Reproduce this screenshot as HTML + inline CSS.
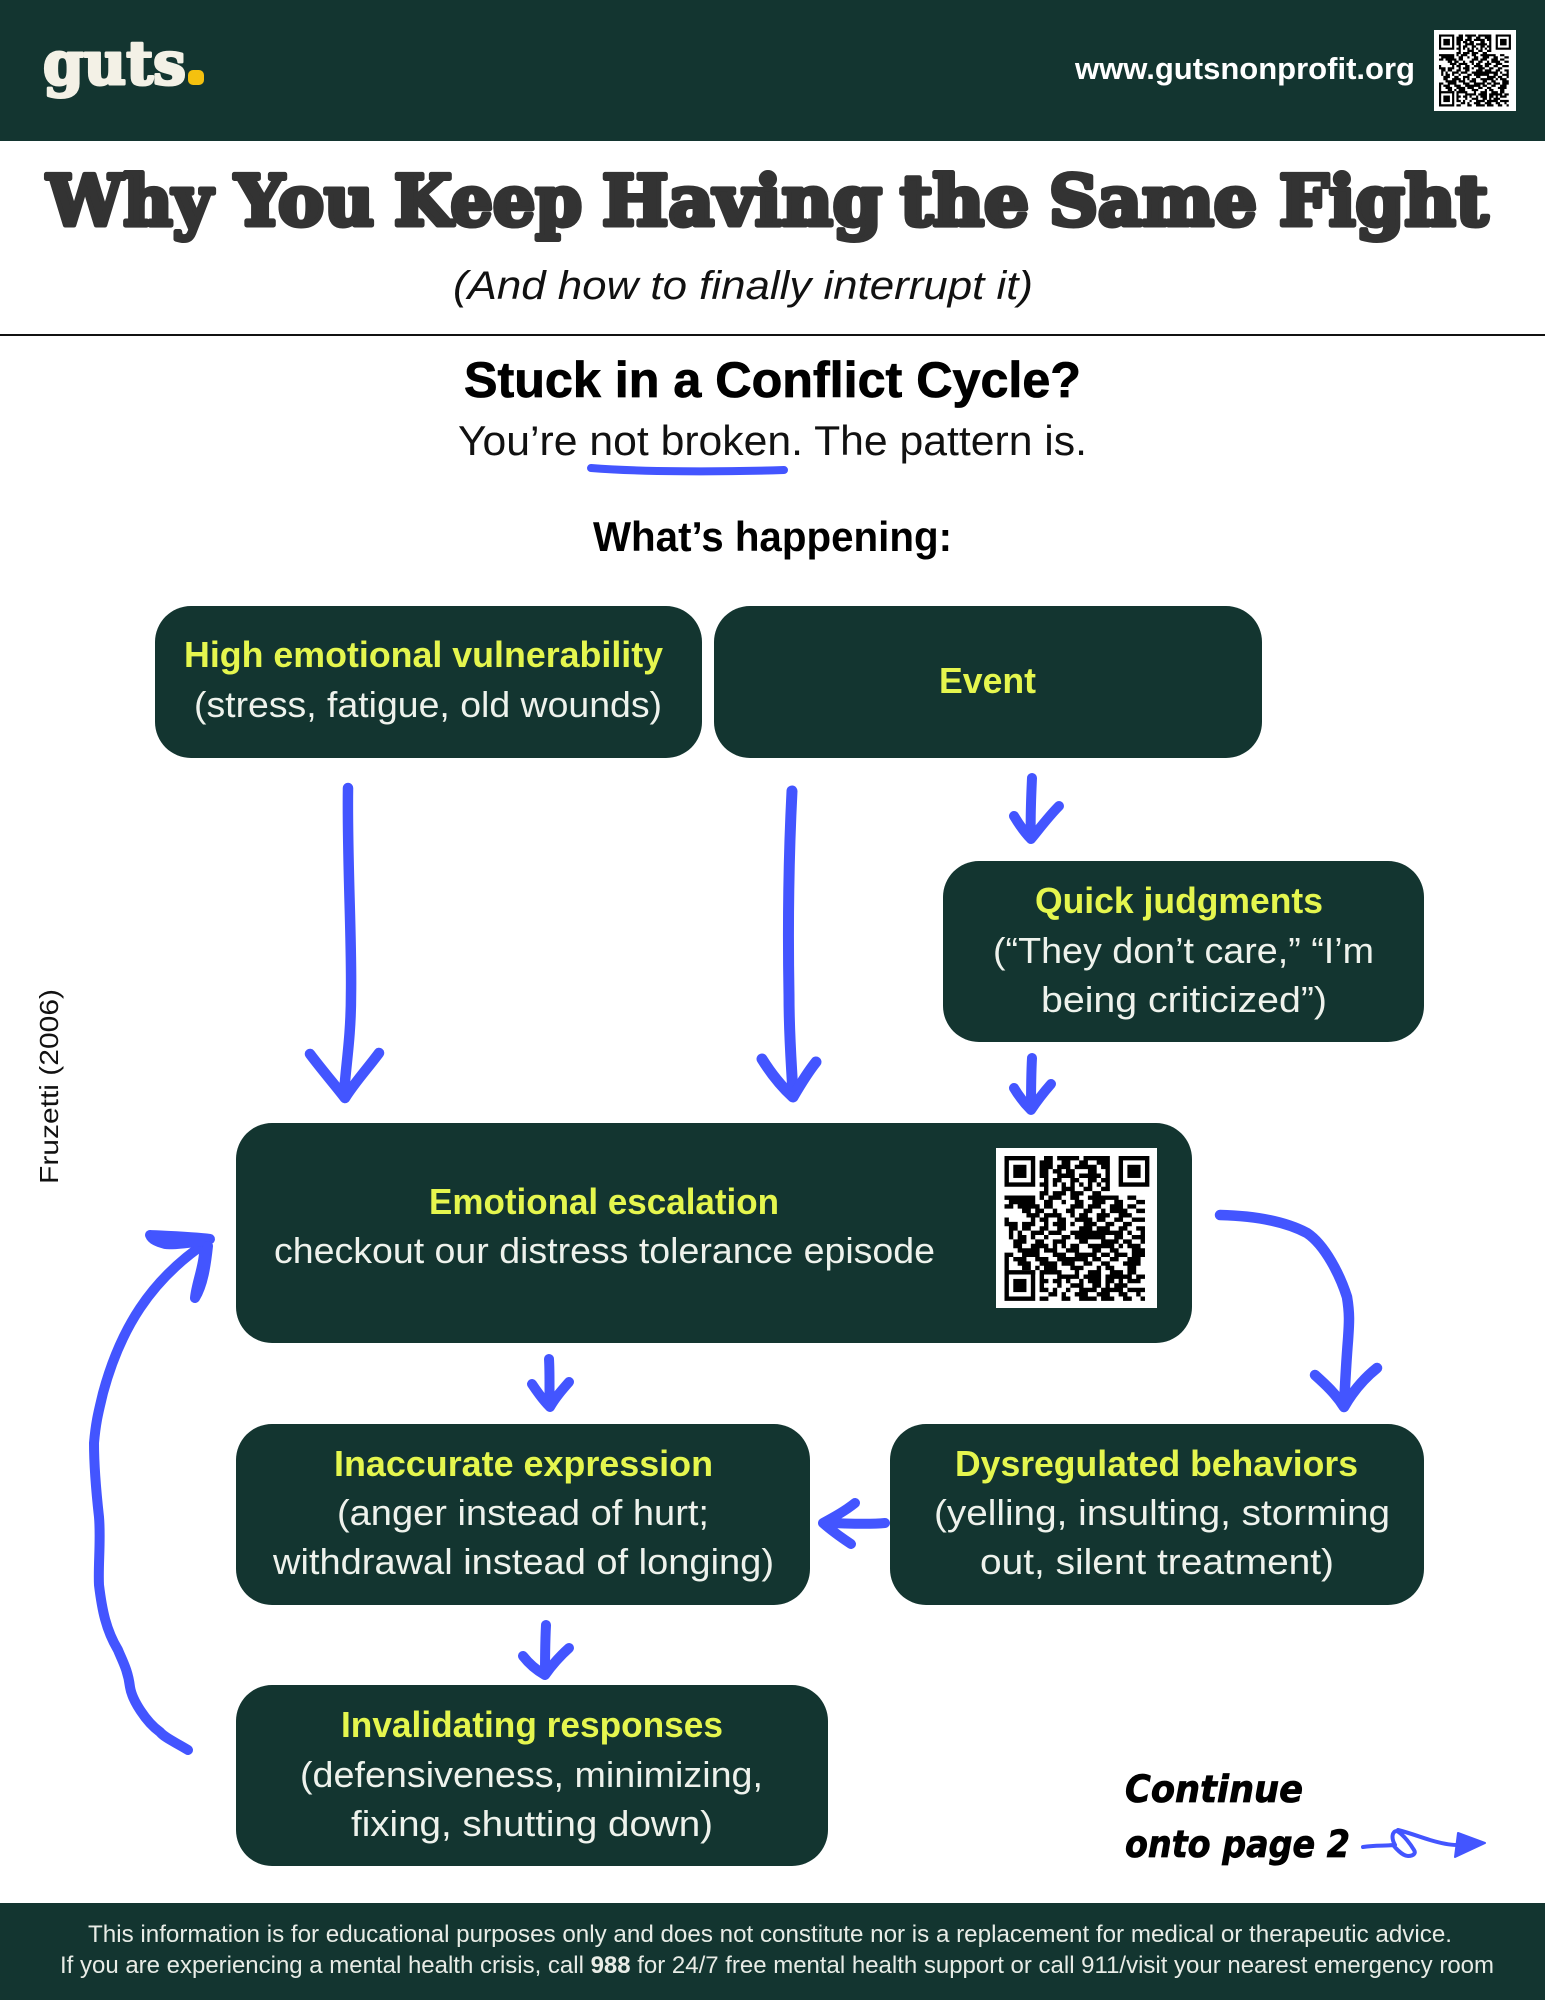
<!DOCTYPE html>
<html><head><meta charset="utf-8"><title>Why You Keep Having the Same Fight</title>
<style>
html,body{margin:0;padding:0;background:#fff}
svg{display:block}
.h{font:bold 36px "Liberation Sans",sans-serif;fill:#e5f64e}
.b{font:36px "Liberation Sans",sans-serif;fill:#eef2ec}
.a{fill:none;stroke:#4355ff;stroke-width:10;stroke-linecap:round;stroke-linejoin:round}
.t{font-family:"DejaVu Serif",serif;font-weight:bold;font-size:69px;fill:#333;stroke:#333;stroke-width:5;stroke-linejoin:round}
</style></head><body>
<svg width="1545" height="2000" viewBox="0 0 1545 2000" xmlns="http://www.w3.org/2000/svg">
<defs>
<g id="qr">
<path fill="none" stroke="#000" stroke-width="1" d="M9 .5h2M12 .5h5M18 .5h6M8 1.5h3M13 1.5h2M17 1.5h2M21 1.5h3M8 2.5h3M12 2.5h3M16 2.5h5M22 2.5h2M8 3.5h2M11 3.5h2M14 3.5h2M19 3.5h2M23 3.5h1M8 4.5h2M12 4.5h4M17 4.5h5M23 4.5h1M9 5.5h1M11 5.5h2M15 5.5h2M19 5.5h2M22 5.5h2M8 6.5h2M11 6.5h1M13 6.5h1M15 6.5h1M17 6.5h1M19 6.5h1M21 6.5h1M23 6.5h1M9 7.5h1M13 7.5h3M18 7.5h2M22 7.5h2M8 8.5h2M11 8.5h3M15 8.5h3M20 8.5h2M0 9.5h7M8 9.5h1M10 9.5h3M15 9.5h2M19 9.5h7M28 9.5h2M1 10.5h6M9 10.5h2M13 10.5h1M16 10.5h2M20 10.5h3M25 10.5h2M30 10.5h2M0 11.5h2M3 11.5h5M9 11.5h2M15 11.5h3M19 11.5h3M24 11.5h3M28 11.5h2M4 12.5h2M7 12.5h2M11 12.5h1M14 12.5h2M18 12.5h2M22 12.5h1M24 12.5h4M30 12.5h2M5 13.5h3M9 13.5h4M15 13.5h1M17 13.5h2M21 13.5h3M26 13.5h3M0 14.5h1M6 14.5h1M8 14.5h2M12 14.5h2M16 14.5h4M21 14.5h2M25 14.5h2M29 14.5h3M0 15.5h3M4 15.5h3M9 15.5h1M11 15.5h3M15 15.5h1M18 15.5h3M23 15.5h2M27 15.5h2M1 16.5h2M4 16.5h2M8 16.5h2M12 16.5h2M17 16.5h3M21 16.5h3M26 16.5h2M30 16.5h2M1 17.5h1M3 17.5h1M6 17.5h3M10 17.5h3M15 17.5h9M24 17.5h3M28 17.5h1M31 17.5h1M1 18.5h1M3 18.5h2M6 18.5h1M9 18.5h1M13 18.5h2M16 18.5h7M25 18.5h2M29 18.5h3M2 19.5h3M7 19.5h2M11 19.5h3M17 19.5h2M22 19.5h4M27 19.5h2M31 19.5h1M2 20.5h2M6 20.5h4M11 20.5h1M13 20.5h1M15 20.5h2M19 20.5h6M26 20.5h1M28 20.5h3M3 21.5h5M9 21.5h3M14 21.5h3M20 21.5h2M24 21.5h2M29 21.5h3M0 22.5h2M4 22.5h4M11 22.5h3M16 22.5h5M22 22.5h2M25 22.5h3M29 22.5h3M0 23.5h1M2 23.5h3M7 23.5h3M12 23.5h7M20 23.5h2M24 23.5h2M28 23.5h3M0 24.5h1M3 24.5h3M8 24.5h4M13 24.5h3M18 24.5h2M22 24.5h2M27 24.5h4M0 25.5h1M4 25.5h2M7 25.5h1M9 25.5h3M15 25.5h3M21 25.5h1M23 25.5h2M28 25.5h2M0 26.5h1M6 26.5h1M8 26.5h5M16 26.5h1M19 26.5h3M24 26.5h3M28 26.5h2M8 27.5h1M12 27.5h5M18 27.5h4M23 27.5h6M30 27.5h2M8 28.5h2M11 28.5h2M14 28.5h1M17 28.5h1M19 28.5h3M23 28.5h2M26 28.5h1M28 28.5h3M8 29.5h1M12 29.5h1M15 29.5h3M20 29.5h2M23 29.5h1M25 29.5h3M8 30.5h2M11 30.5h1M14 30.5h1M17 30.5h4M22 30.5h5M28 30.5h4M10 31.5h2M13 31.5h1M16 31.5h3M21 31.5h3M26 31.5h2M30 31.5h1M8 32.5h2M13 32.5h2M17 32.5h4M22 32.5h3M27 32.5h2M31 32.5h1"/>
<g id="f"><path fill="none" stroke="#000" d="M.5 .5h6v6h-6z"/><rect x="2" y="2" width="3" height="3" fill="#000"/></g>
<use href="#f" x="26"/><use href="#f" y="26"/>
</g>
</defs>
<rect width="1545" height="2000" fill="#fff"/>
<!-- header -->
<rect width="1545" height="141" fill="#133530"/>
<text x="43" y="84" font-family="'DejaVu Serif',serif" font-weight="bold" font-size="60" fill="#f3f1e6" stroke="#f3f1e6" stroke-width="3" stroke-linejoin="round" textLength="143" lengthAdjust="spacingAndGlyphs">guts</text>
<rect x="188" y="70" width="16" height="15" rx="5" fill="#f4c10f"/>
<text x="1075" y="79" font-family="'Liberation Sans',sans-serif" font-weight="bold" font-size="31" fill="#fff" textLength="340" lengthAdjust="spacingAndGlyphs">www.gutsnonprofit.org</text>
<rect x="1434" y="30" width="82" height="81" fill="#fff"/>
<use href="#qr" transform="translate(1439 34.500) scale(2.18)"/>
<!-- title -->
<text class="t" x="47" y="225" textLength="165" lengthAdjust="spacingAndGlyphs">Why</text>
<text class="t" x="235" y="225" textLength="139" lengthAdjust="spacingAndGlyphs">You</text>
<text class="t" x="394" y="225" textLength="188" lengthAdjust="spacingAndGlyphs">Keep</text>
<text class="t" x="602" y="225" textLength="280" lengthAdjust="spacingAndGlyphs">Having</text>
<text class="t" x="900" y="225" textLength="129" lengthAdjust="spacingAndGlyphs">the</text>
<text class="t" x="1049" y="225" textLength="208" lengthAdjust="spacingAndGlyphs">Same</text>
<text class="t" x="1279" y="225" textLength="209" lengthAdjust="spacingAndGlyphs">Fight</text>
<text x="453" y="299" font-family="'Liberation Sans',sans-serif" font-style="italic" font-size="40" fill="#111" textLength="580" lengthAdjust="spacingAndGlyphs">(And how to finally interrupt it)</text>
<rect y="334" width="1545" height="2" fill="#111"/>
<text x="464" y="397" font-family="'Liberation Sans',sans-serif" font-weight="bold" font-size="50" fill="#000" stroke="#000" stroke-width=".8" textLength="617" lengthAdjust="spacingAndGlyphs">Stuck in a Conflict Cycle?</text>
<text x="458" y="455" font-family="'Liberation Sans',sans-serif" font-size="42" fill="#111" textLength="629" lengthAdjust="spacingAndGlyphs">You’re not broken. The pattern is.</text>
<path d="M591 468C640 472 720 472 784 470" fill="none" stroke="#4355ff" stroke-width="8" stroke-linecap="round"/>
<text x="593" y="551" font-family="'Liberation Sans',sans-serif" font-weight="bold" font-size="42" fill="#000" textLength="359" lengthAdjust="spacingAndGlyphs">What’s happening:</text>
<!-- boxes -->
<g fill="#133530">
<rect x="155" y="606" width="547" height="152" rx="36"/>
<rect x="714" y="606" width="548" height="152" rx="36"/>
<rect x="943" y="861" width="481" height="181" rx="36"/>
<rect x="236" y="1123" width="956" height="220" rx="36"/>
<rect x="236" y="1424" width="574" height="181" rx="36"/>
<rect x="890" y="1424" width="534" height="181" rx="36"/>
<rect x="236" y="1685" width="592" height="181" rx="36"/>
</g>
<!-- box text -->
<text class="h" x="184" y="667" textLength="479" lengthAdjust="spacingAndGlyphs">High emotional vulnerability</text>
<text class="b" x="194" y="717" textLength="468" lengthAdjust="spacingAndGlyphs">(stress, fatigue, old wounds)</text>
<text class="h" x="939" y="693" textLength="97" lengthAdjust="spacingAndGlyphs">Event</text>
<text class="h" x="1035" y="913" textLength="288" lengthAdjust="spacingAndGlyphs">Quick judgments</text>
<text class="b" x="993" y="963" textLength="381" lengthAdjust="spacingAndGlyphs">(“They don’t care,” “I’m</text>
<text class="b" x="1041" y="1012" textLength="286" lengthAdjust="spacingAndGlyphs">being criticized”)</text>
<text class="h" x="429" y="1214" textLength="350" lengthAdjust="spacingAndGlyphs">Emotional escalation</text>
<text class="b" x="274" y="1263" textLength="661" lengthAdjust="spacingAndGlyphs">checkout our distress tolerance episode</text>
<text class="h" x="334" y="1476" textLength="379" lengthAdjust="spacingAndGlyphs">Inaccurate expression</text>
<text class="b" x="337" y="1525" textLength="372" lengthAdjust="spacingAndGlyphs">(anger instead of hurt;</text>
<text class="b" x="273" y="1574" textLength="501" lengthAdjust="spacingAndGlyphs">withdrawal instead of longing)</text>
<text class="h" x="955" y="1476" textLength="403" lengthAdjust="spacingAndGlyphs">Dysregulated behaviors</text>
<text class="b" x="934" y="1525" textLength="456" lengthAdjust="spacingAndGlyphs">(yelling, insulting, storming</text>
<text class="b" x="980" y="1574" textLength="354" lengthAdjust="spacingAndGlyphs">out, silent treatment)</text>
<text class="h" x="341" y="1737" textLength="382" lengthAdjust="spacingAndGlyphs">Invalidating responses</text>
<text class="b" x="300" y="1787" textLength="463" lengthAdjust="spacingAndGlyphs">(defensiveness, minimizing,</text>
<text class="b" x="351" y="1836" textLength="362" lengthAdjust="spacingAndGlyphs">fixing, shutting down)</text>
<!-- big QR -->
<rect x="996" y="1148" width="161" height="160" fill="#fff"/>
<use href="#qr" transform="translate(1004.5 1156) scale(4.39)"/>
<!-- side note -->
<text transform="translate(58 1184) rotate(-90)" font-family="'Liberation Sans',sans-serif" font-size="26" fill="#111" textLength="195" lengthAdjust="spacingAndGlyphs">Fruzetti (2006)</text>
<!-- arrows -->
<g class="a">
<path d="M348 788C347 860 352 940 351 995C351 1040 345 1070 344 1096M310 1054C322 1070 335 1085 345 1098C355 1082 368 1068 379 1053" stroke-width="10.500"/>
<path d="M792 791C788 870 788 940 789 995C789 1040 792 1070 793 1096" stroke-width="11"/>
<path d="M762 1059C772 1075 783 1088 793 1097C800 1085 808 1072 816 1062" stroke-width="11"/>
<path d="M1032 778C1031 800 1030 820 1031 839M1014 816C1020 826 1026 834 1031 839C1040 828 1049 816 1059 806"/>
<path d="M1032 1058C1031 1076 1031 1092 1031 1110M1014 1088C1020 1098 1026 1105 1031 1110C1037 1101 1044 1092 1051 1084"/>
<path d="M1220 1215C1262 1216 1290 1224 1307 1233C1325 1245 1340 1275 1347 1297C1350 1315 1349 1325 1348 1340C1346 1365 1345 1385 1344 1407M1315 1375C1325 1384 1336 1394 1344 1407C1352 1393 1362 1380 1377 1368" stroke-width="10.500"/>
<path d="M549 1359C550 1376 549 1392 550 1407M532 1384C538 1393 544 1401 550 1407C555 1398 562 1390 569 1382"/>
<path d="M885 1523C865 1525 845 1523 823 1523M855 1503C845 1511 834 1517 823 1523C832 1531 842 1538 851 1544"/>
<path d="M546 1625C545 1644 545 1660 545 1675M523 1656C530 1665 538 1671 545 1675C552 1665 560 1656 569 1648"/>
<path d="M188 1750C175 1742 165 1738 160 1732C146 1722 132 1700 130 1687C128 1670 122 1660 118 1650C106 1630 102 1610 99 1585C98 1565 101 1540 99 1517C96 1490 94 1465 94 1443C96 1420 99 1410 103 1393C120 1330 150 1280 207 1242"/>
<path d="M150 1235C170 1236 195 1237 210 1239C195 1243 170 1245 165 1244C158 1242 152 1240 150 1235Z" fill="#4355ff"/>
<path d="M208 1246C206 1265 203 1285 195 1298C196 1285 204 1265 204 1252"/>
</g>
<!-- continue -->
<text x="1125" y="1802" font-family="'DejaVu Sans',sans-serif" font-weight="bold" font-style="italic" font-size="37" fill="#000" stroke="#000" stroke-width=".8" textLength="178" lengthAdjust="spacingAndGlyphs">Continue</text>
<text x="1125" y="1857" font-family="'DejaVu Sans',sans-serif" font-weight="bold" font-style="italic" font-size="37" fill="#000" stroke="#000" stroke-width=".8" textLength="225" lengthAdjust="spacingAndGlyphs">onto page 2</text>
<path d="M1363 1847C1375 1845 1385 1846 1393 1845C1398 1851 1404 1856 1408 1856C1414 1856 1416 1853 1414 1850C1411 1845 1404 1835 1397 1831C1392 1831 1391 1838 1395 1845M1398 1830C1410 1833 1420 1837 1430 1840C1440 1843 1448 1845 1457 1845" fill="none" stroke="#4355ff" stroke-width="4" stroke-linecap="round"/>
<path d="M1458 1833L1485 1843L1455 1857Z" fill="#4355ff" stroke="#4355ff" stroke-width="2" stroke-linejoin="round"/>
<!-- footer -->
<rect y="1903" width="1545" height="97" fill="#133530"/>
<text x="88" y="1942" font-family="'Liberation Sans',sans-serif" font-size="24" fill="#e8ece6" textLength="1364" lengthAdjust="spacingAndGlyphs">This information is for educational purposes only and does not constitute nor is a replacement for medical or therapeutic advice.</text>
<text x="60" y="1973" font-family="'Liberation Sans',sans-serif" font-size="24" fill="#e8ece6" textLength="1434" lengthAdjust="spacingAndGlyphs">If you are experiencing a mental health crisis, call <tspan font-weight="bold">988</tspan> for 24/7 free mental health support or call 911/visit your nearest emergency room</text>
</svg>
</body></html>
